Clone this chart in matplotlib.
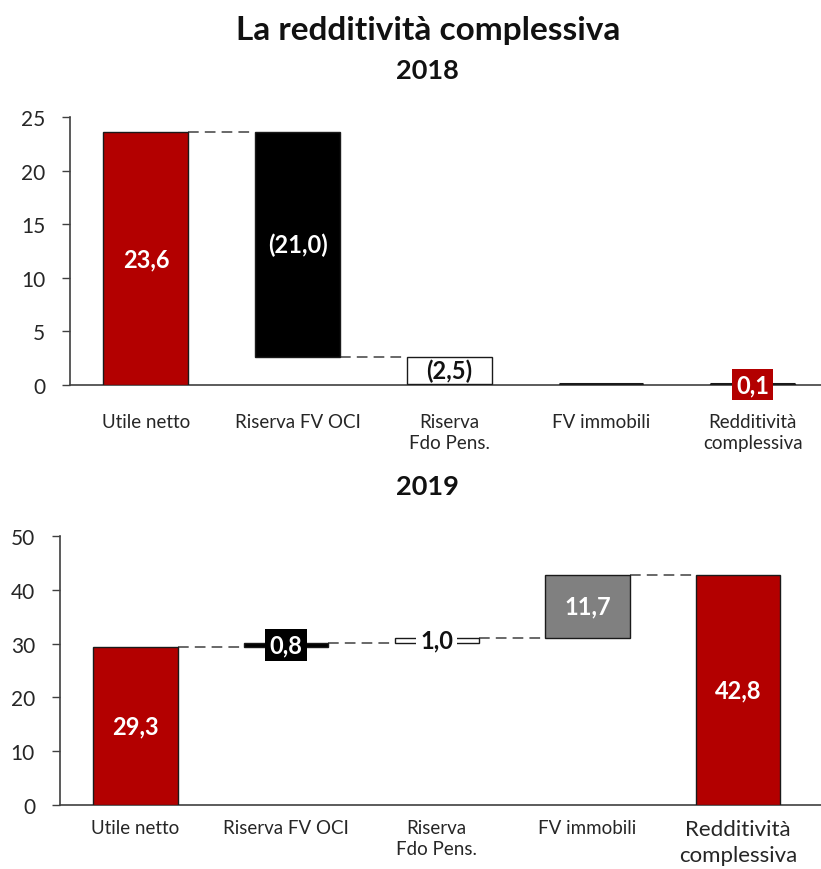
import numpy as np
import matplotlib
matplotlib.use("Agg")
import matplotlib.pyplot as plt

plt.rcParams["font.family"] = ["Lato", "DejaVu Sans"]

# ── dati ─────────────────────────────────────────────────────────────────────
CATEGORIES = ["Utile netto", "Riserva FV OCI", "Riserva\nFdo Pens.",
              "FV immobili", "Redditività\ncomplessiva"]
VALUES_2018 = [23.6, -21.0, -2.5, 0.0, 0.1]
VALUES_2019 = [29.3, 0.8, 1.0, 11.7, 42.8]
LABELS_2018 = ["23,6", "(21,0)", "(2,5)", "", "0,1"]
LABELS_2019 = ["29,3", "0,8", "1,0", "11,7", "42,8"]
YTICKS_2018 = [0, 5, 10, 15, 20, 25]
YTICKS_2019 = [0, 10, 20, 30, 40, 50]

RED = "#B30000"
GREY = "#808080"
AX_COL = "#404040"


def waterfall(ax, values, labels, fills, txt_cols, box_cols, yticks, xlim_r,
              lab_pad, last_big=False):
    n = len(values)
    x = np.arange(n)
    bottoms, heights = [], []
    run = 0.0
    for i, v in enumerate(values):
        if i == n - 1:
            bottoms.append(0.0)
            heights.append(v)
        else:
            bottoms.append(run if v >= 0 else run + v)
            heights.append(abs(v))
            run += v
    w = 0.56
    ax.bar(x, heights, bottom=bottoms, width=w, color=fills,
           edgecolor="#1a1a1a", linewidth=1.0, zorder=3)
    # barre quasi nulle: linea spessa
    for i, h in enumerate(heights):
        if h < 0.3:
            ax.plot([x[i] - w / 2, x[i] + w / 2], [bottoms[i] + h] * 2,
                    color="#1a1a1a", lw=2.2, zorder=4, solid_capstyle="butt")

    # connettori tratteggiati
    run = 0.0
    for i in range(n - 1):
        run += values[i]
        if run < 0.5:
            continue
        ax.plot([x[i] + w / 2, x[i + 1] - w / 2], [run, run],
                ls=(0, (7, 4)), color=AX_COL, lw=1.1, zorder=2)

    for i in range(n):
        if not labels[i]:
            continue
        yc = bottoms[i] + heights[i] / 2
        bbox = None
        if box_cols[i] is not None:
            bbox = dict(boxstyle="square,pad=0.18", fc=box_cols[i], ec="none")
        ax.text(x[i], yc, labels[i], ha="center", va="center", fontsize=17,
                fontweight="bold", color=txt_cols[i], bbox=bbox, zorder=5)

    ax.set_xlim(-0.5, xlim_r)
    ax.set_ylim(yticks[0], yticks[-1])
    ax.set_yticks(yticks)
    ax.set_xticks(x)
    ax.set_xticklabels(CATEGORIES, fontsize=13.5, color="#262626",
                       linespacing=1.3)
    if last_big:
        ax.get_xticklabels()[-1].set_fontsize(16)
        ax.get_xticklabels()[-1].set_linespacing(1.4)
    ax.tick_params(axis="x", length=0, pad=lab_pad)
    ax.tick_params(axis="y", length=6, width=1.0, color=AX_COL,
                   labelsize=15, labelcolor="#262626", pad=12)
    for s in ("top", "right"):
        ax.spines[s].set_visible(False)
    for s in ("left", "bottom"):
        ax.spines[s].set_color(AX_COL)
        ax.spines[s].set_linewidth(1.2)


fig = plt.figure(figsize=(8.21, 8.70), dpi=100)

fig.text(0.521, 0.9655, "La redditività complessiva", ha="center", va="center",
         fontsize=24, fontweight="bold", color="#111111")
fig.text(0.521, 0.918, "2018", ha="center", va="center",
         fontsize=19.5, fontweight="bold", color="#111111")
fig.text(0.521, 0.440, "2019", ha="center", va="center",
         fontsize=19.5, fontweight="bold", color="#111111")

ax1 = fig.add_axes([0.0853, 0.5563, 0.9147, 0.3081])
waterfall(ax1, VALUES_2018, LABELS_2018,
          fills=[RED, "black", "white", "black", RED],
          txt_cols=["white", "white", "#111111", "white", "white"],
          box_cols=[None, None, None, None, RED],
          yticks=YTICKS_2018, xlim_r=4.45, lab_pad=20)

ax2 = fig.add_axes([0.0731, 0.0736, 0.9269, 0.3092])
waterfall(ax2, VALUES_2019, LABELS_2019,
          fills=[RED, "black", "white", GREY, RED],
          txt_cols=["white", "white", "#111111", "white", "white"],
          box_cols=[None, "black", "white", None, None],
          yticks=YTICKS_2019, xlim_r=4.55, lab_pad=10, last_big=True)

fig.savefig("out.png", dpi=100)
